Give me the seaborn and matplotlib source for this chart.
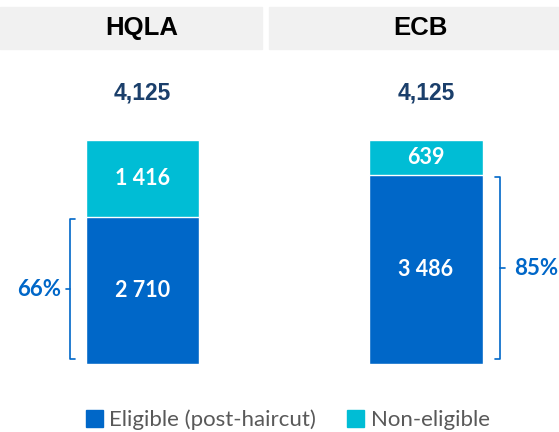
import matplotlib
matplotlib.use('Agg')

import matplotlib.pyplot as plt
import seaborn as sns
import pandas as pd
from matplotlib.patches import Rectangle, Patch

# chart data
panels = ['HQLA', 'ECB']
eligible = [2710, 3486]
non_eligible = [1416, 639]
totals = [4125, 4125]
series_names = ['Eligible (post-haircut)', 'Non-eligible']

BLUE = '#0067C8'
CYAN = '#00BDD5'
NAVY = '#1B3F6B'
GREY_BG = '#F1F1F1'

sns.set_style('white')
plt.rcParams['font.family'] = ['Lato', 'DejaVu Sans']

df = pd.DataFrame({'panel': panels, 'eligible': eligible,
                   'non_eligible': non_eligible})
df['stack'] = df['eligible'] + df['non_eligible']

fig = plt.figure(figsize=(5.59, 4.32), dpi=100)
W, H = 559, 432

# header boxes
fig.patches.append(Rectangle((0, 1 - 49 / H), 262 / W, 42 / H,
                             transform=fig.transFigure, color=GREY_BG, zorder=0))
fig.patches.append(Rectangle((269 / W, 1 - 49 / H), 290 / W, 42 / H,
                             transform=fig.transFigure, color=GREY_BG, zorder=0))
for cx, name in zip([142 / W, 420 / W], panels):
    fig.text(cx, 1 - 28 / H, name, ha='center', va='center', fontsize=18.5,
             fontweight='bold', family='Liberation Sans', color='black')

ax = fig.add_axes([0, 68 / H, 1, 224 / H])
sns.barplot(data=df, x='panel', y='stack', color=CYAN, width=0.4,
            saturation=1, ax=ax)
sns.barplot(data=df, x='panel', y='eligible', color=BLUE, width=0.4,
            saturation=1, ax=ax)
ax.set_xlim(-0.503, 1.469)
ax.set_ylim(0, df['stack'].max())
ax.axis('off')

for i, row in df.iterrows():
    ax.text(i, row['eligible'] / 2, f"{row['eligible']:,}".replace(',', ' '),
            ha='center', va='center', color='white', fontsize=15.5,
            fontweight='bold')
    ax.text(i, row['eligible'] + row['non_eligible'] / 2,
            f"{row['non_eligible']:,}".replace(',', ' '),
            ha='center', va='center', color='white', fontsize=15.5,
            fontweight='bold')
    ax.annotate(f"{totals[i]:,}", (i, row['stack']), xytext=(0, 47),
                textcoords='offset pixels', ha='center', va='center',
                fontsize=16.5, fontweight='bold', family='Liberation Sans',
                color=NAVY, annotation_clip=False)

# brackets with share of eligible
px = 1.972 / W
for i, row in df.iterrows():
    pct = round(100 * row['eligible'] / row['stack'])
    y0, y1 = 5 / 224 * df['stack'].max(), row['eligible'] - 45
    ym = (y0 + y1) / 2
    if i == 0:
        xb = i - 0.2 - 16 * px
        xs = [xb + 5 * px, xb, xb, xb + 5 * px]
        ax.plot(xs, [y1, y1, y0, y0], color=BLUE, lw=1.2, clip_on=False)
        ax.plot([xb, xb - 4 * px], [ym, ym], color=BLUE, lw=1.2, clip_on=False)
        ax.text(xb - 9 * px, ym, f'{pct}%', ha='right', va='center',
                color=BLUE, fontsize=16, fontweight='bold')
    else:
        xb = i + 0.2 + 17 * px
        xs = [xb - 5 * px, xb, xb, xb - 5 * px]
        ax.plot(xs, [y1, y1, y0, y0], color=BLUE, lw=1.2, clip_on=False)
        ax.plot([xb, xb + 5 * px], [ym, ym], color=BLUE, lw=1.2, clip_on=False)
        ax.text(xb + 14 * px, ym, f'{pct}%', ha='left', va='center',
                color=BLUE, fontsize=16, fontweight='bold')

handles = [Patch(color=BLUE), Patch(color=CYAN)]
fig.legend(handles, series_names, loc='center', bbox_to_anchor=(0.515, 1 - 420 / H),
           ncol=2, frameon=False, fontsize=16, labelcolor='#595959',
           handlelength=0.75, handleheight=0.75, handletextpad=0.3,
           columnspacing=1.4)

fig.savefig('out.png', dpi=100)
